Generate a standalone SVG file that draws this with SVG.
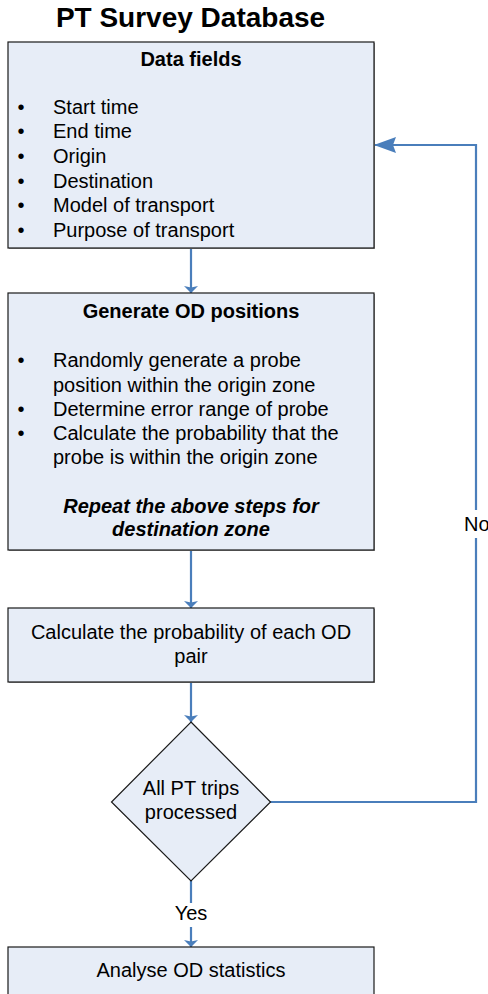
<svg xmlns="http://www.w3.org/2000/svg" width="488" height="994" viewBox="0 0 488 994">
<style>
text{font-family:"Liberation Sans",Arial,sans-serif;fill:#000}
.t{font-size:20px}
.b{font-weight:bold}
.c{text-anchor:middle}
.box{fill:#E7EDF7;stroke:#1a1a1a;stroke-width:1.2}
.sh{fill:#9a9a9a}
.ln{fill:none;stroke:#4A7EBB;stroke-width:2.2}
.ah{fill:#4A7EBB}
</style>
<defs>
<marker id="down" markerUnits="userSpaceOnUse" viewBox="0 0 8 14" refX="7" refY="7" markerWidth="8" markerHeight="14" orient="auto">
<path d="M0,0 L7,7 L0,14 L1.5,7 z" class="ah"/>
</marker>
<marker id="big" markerUnits="userSpaceOnUse" viewBox="0 0 22 16" refX="22" refY="8" markerWidth="22" markerHeight="16" orient="auto">
<path d="M0,0 L22,8 L0,16 L3,8 z" class="ah"/>
</marker>
</defs>
<rect width="488" height="994" fill="#fff"/>
<text class="b c" x="190.5" y="27" font-size="28">PT Survey Database</text>

<g id="connectors">
<path class="ln" d="M191,248 V293" marker-end="url(#down)"/>
<path class="ln" d="M191,550 V608" marker-end="url(#down)"/>
<path class="ln" d="M191,682 V722" marker-end="url(#down)"/>
<path class="ln" d="M191,881 V903"/>
<path class="ln" d="M191,927 V947" marker-end="url(#down)"/>
<path class="ln" d="M270,802 H476 V538"/>
<path class="ln" d="M476,510 V145 H374" marker-end="url(#big)"/>
<text class="t" x="464" y="531">No</text>
<text class="t c" x="191" y="920">Yes</text>
</g>

<g id="data-fields">
<rect class="sh" x="9" y="43" width="366" height="206"/>
<rect class="box" x="8" y="42" width="366" height="206"/>
<text class="t b c" x="191" y="66">Data fields</text>
<g class="t">
<text x="21" y="114" class="c">•</text><text x="53" y="114">Start time</text>
<text x="21" y="138" class="c">•</text><text x="53" y="138">End time</text>
<text x="21" y="163" class="c">•</text><text x="53" y="163">Origin</text>
<text x="21" y="188" class="c">•</text><text x="53" y="188">Destination</text>
<text x="21" y="212" class="c">•</text><text x="53" y="212">Model of transport</text>
<text x="21" y="237" class="c">•</text><text x="53" y="237">Purpose of transport</text>
</g>
</g>

<g id="generate-od">
<rect class="sh" x="9" y="294" width="366" height="257"/>
<rect class="box" x="8" y="293" width="366" height="257"/>
<text class="t b c" x="191" y="318">Generate OD positions</text>
<g class="t">
<text x="21" y="367" class="c">•</text><text x="53" y="367">Randomly generate a probe</text>
<text x="53" y="392">position within the origin zone</text>
<text x="21" y="416" class="c">•</text><text x="53" y="416">Determine error range of probe</text>
<text x="21" y="440" class="c">•</text><text x="53" y="440">Calculate the probability that the</text>
<text x="53" y="464">probe is within the origin zone</text>
</g>
<text class="t b c" x="191" y="513" font-style="italic">Repeat the above steps for</text>
<text class="t b c" x="191" y="536" font-style="italic">destination zone</text>
</g>

<g id="od-probability">
<rect class="sh" x="9" y="609" width="366" height="74"/>
<rect class="box" x="8" y="608" width="366" height="74"/>
<text class="t c" x="191" y="639">Calculate the probability of each OD</text>
<text class="t c" x="191" y="663">pair</text>
</g>

<g id="all-processed">
<path class="box" d="M191,722 L270.5,802 L191,881 L111.5,802 z"/>
<text class="t c" x="191" y="795">All PT trips</text>
<text class="t c" x="191" y="819">processed</text>
</g>

<g id="analyse">
<rect class="box" x="8" y="947" width="366" height="60"/>
<text class="t c" x="191" y="977">Analyse OD statistics</text>
</g>
</svg>
